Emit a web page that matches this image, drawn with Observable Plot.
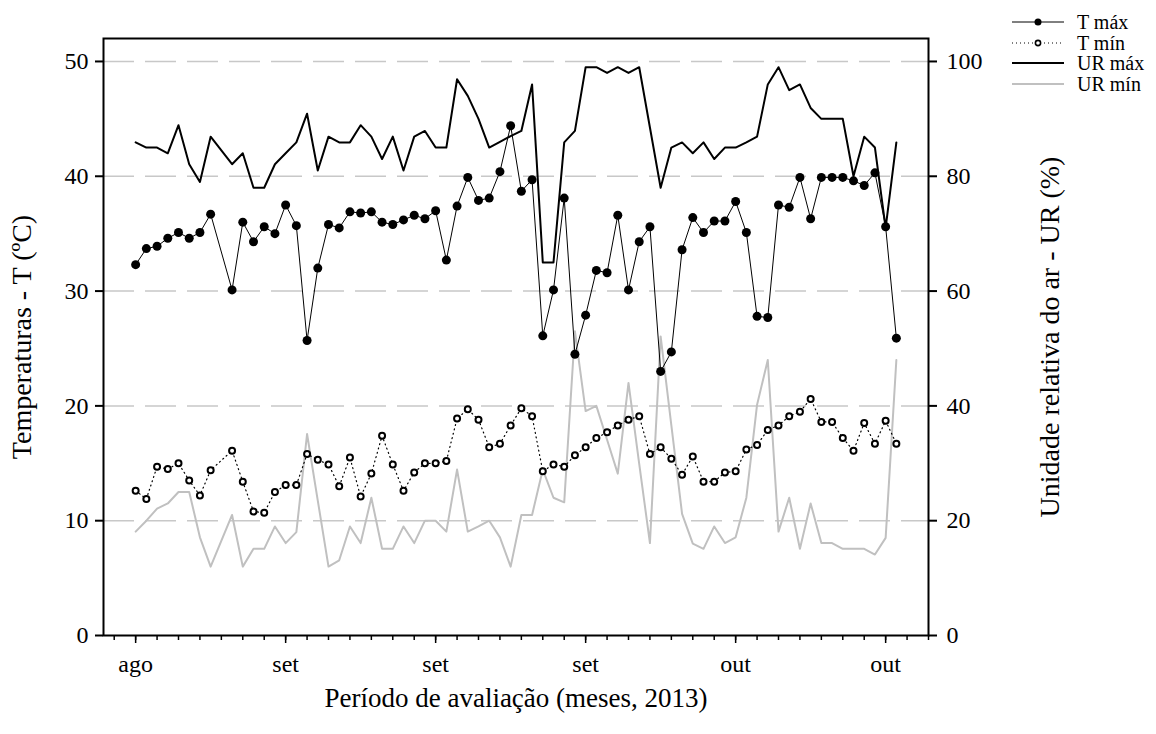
<!DOCTYPE html>
<html>
<head>
<meta charset="utf-8">
<script src="https://cdn.jsdelivr.net/npm/d3@7"></script>
<script src="https://cdn.jsdelivr.net/npm/@observablehq/plot@0.6"></script>
<style>
  html, body { margin: 0; padding: 0; background: white; }
  #wrap { position: relative; width: 1156px; height: 734px; font-family: "Liberation Serif", "Times New Roman", serif; }
  #legend { position: absolute; left: 1012px; top: 12px; font-size: 20px; line-height: 20.5px; }
  #legend .row { display: flex; align-items: center; height: 20.5px; white-space: nowrap; }
  #legend svg { width: 52px; height: 14px; margin-right: 13px; flex: none; }
</style>
</head>
<body>
<div id="wrap">
  <div id="chart"></div>
  <div id="legend"></div>
</div>
<script>
// Day index from the first evaluation day (day 8 has no record)
const days = [0,1,2,3,4,5,6,7,9,10,11,12,13,14,15,16,17,18,19,20,21,22,23,24,25,26,27,28,29,30,31,32,33,34,35,36,37,38,39,40,41,42,43,44,45,46,47,48,49,50,51,52,53,54,55,56,57,58,59,60,61,62,63,64,65,66,67,68,69,70,71];

// T máx (ºC)
const tMax = [32.3,33.7,33.9,34.6,35.1,34.6,35.1,36.7,30.1,36.0,34.3,35.6,35.0,37.5,35.7,25.7,32.0,35.8,35.5,36.9,36.8,36.9,36.0,35.8,36.2,36.6,36.3,37.0,32.7,37.4,39.9,37.9,38.1,40.4,44.4,38.7,39.7,26.1,30.1,38.1,24.5,27.9,31.8,31.6,36.6,30.1,34.3,35.6,23.0,24.7,33.6,36.4,35.1,36.1,36.1,37.8,35.1,27.8,27.7,37.5,37.3,39.9,36.3,39.9,39.9,39.9,39.6,39.2,40.3,35.6,25.9];

// T mín (ºC)
const tMin = [12.6,11.9,14.7,14.5,15.0,13.5,12.2,14.4,16.1,13.4,10.8,10.7,12.5,13.1,13.1,15.8,15.3,14.9,13.0,15.5,12.1,14.1,17.4,14.9,12.6,14.2,15.0,15.0,15.2,18.9,19.7,18.8,16.4,16.7,18.3,19.8,19.1,14.3,14.9,14.7,15.7,16.4,17.2,17.7,18.3,18.8,19.1,15.8,16.4,15.4,14.0,15.6,13.4,13.4,14.2,14.3,16.2,16.6,17.9,18.3,19.1,19.5,20.6,18.6,18.6,17.2,16.1,18.5,16.7,18.7,16.7];

// UR máx (%)
const urMax = [85.9,85.0,85.0,84.0,88.9,82.1,79.0,86.9,82.1,84.0,78.0,78.0,82.1,84.0,85.9,90.9,81.0,86.9,85.9,85.9,88.9,86.9,83.0,86.9,81.0,86.9,87.9,85.0,85.0,96.9,94.0,90.0,85.0,86.0,87.0,87.9,96.0,65.0,65.0,85.9,87.9,99.0,99.0,98.0,99.0,98.0,99.0,88.5,78.0,85.0,85.9,84.0,85.9,83.0,85.0,85.0,85.9,86.9,96.0,99.0,95.0,96.0,91.9,90.0,90.0,90.0,80.0,86.9,85.0,71.0,85.9];

// UR mín (%)
const urMin = [18.1,20.0,22.1,23.0,25.0,25.0,17.1,12.0,21.0,12.0,15.1,15.1,19.0,16.1,18.0,35.1,23.5,12.0,13.1,19.0,16.1,24.0,15.1,15.1,19.0,16.1,20.0,20.0,18.1,28.9,18.1,19.0,20.0,17.1,12.0,21.0,21.0,28.9,24.0,23.2,53.0,39.1,40.0,34.1,28.2,44.0,29.9,16.1,52.1,36.6,21.2,16.0,15.1,19.0,16.1,17.1,24.0,40.2,48.0,18.1,24.0,15.1,23.0,16.1,16.1,15.1,15.1,15.1,14.1,17.0,48.0];

// Axis ticks, labels and titles
const tempTicks = [0, 10, 20, 30, 40, 50];
const gridTicks = [10, 20, 30, 40, 50];
const majorTicks = [0, 14, 28, 42, 56, 70];
const monthLabels = ["ago", "set", "set", "set", "out", "out"];
const minorTicks = d3.range(-2, 75, 2);
const titleLeft = ["Temperaturas - T (ºC)"];
const titleRight = ["Unidade relativa do ar - UR (%)"];
const titleBottom = ["Período de avaliação (meses, 2013)"];

const rows = (vals) => days.map((d, i) => ({day: d, v: vals[i]}));
const dTMax = rows(tMax), dTMin = rows(tMin), dURMax = rows(urMax), dURMin = rows(urMin);

const chart = Plot.plot({
  width: 1156,
  height: 734,
  marginLeft: 103,
  marginRight: 228,
  marginTop: 38,
  marginBottom: 99,
  x: {domain: [-3, 74]},
  y: {domain: [0, 52]},
  style: {fontFamily: "Liberation Serif", fontSize: "24px", color: "black", background: "white", overflow: "visible"},
  marks: [
    Plot.ruleY(gridTicks, {stroke: "#c8c8c8", strokeWidth: 1.5, strokeDasharray: "31,11"}),
    Plot.line(dURMin, {x: "day", y: d => d.v / 2, stroke: "#c0c0c0", strokeWidth: 2}),
    Plot.line(dURMax, {x: "day", y: d => d.v / 2, stroke: "black", strokeWidth: 2}),
    Plot.line(dTMin, {x: "day", y: "v", stroke: "black", strokeWidth: 1.2, strokeDasharray: "1,3.5"}),
    Plot.dot(dTMin, {x: "day", y: "v", r: 3, stroke: "black", strokeWidth: 2, fill: "white"}),
    Plot.line(dTMax, {x: "day", y: "v", stroke: "black", strokeWidth: 1}),
    Plot.dot(dTMax, {x: "day", y: "v", r: 4.5, fill: "black", stroke: "none"}),
    Plot.axisY({ticks: tempTicks, tickSize: 8, tickPadding: 7, strokeWidth: 2, fontSize: 24, label: null}),
    Plot.axisY({anchor: "right", ticks: tempTicks, tickFormat: d => d * 2, tickSize: 8, tickPadding: 10, strokeWidth: 2, fontSize: 24, label: null}),
    Plot.axisX({ticks: minorTicks, tickSize: 5, tickFormat: () => "", label: null, strokeWidth: 1.5}),
    Plot.axisX({ticks: majorTicks, tickSize: 8, tickPadding: 11, strokeWidth: 1.5, fontSize: 24, label: null,
      tickFormat: d => monthLabels[majorTicks.indexOf(d)]}),
    Plot.text(titleLeft, {frameAnchor: "left", rotate: -90, dx: -81, fontSize: 28, textAnchor: "middle", lineAnchor: "middle"}),
    Plot.text(titleRight, {frameAnchor: "right", rotate: -90, dx: 122, fontSize: 28, textAnchor: "middle", lineAnchor: "middle"}),
    Plot.text(titleBottom, {frameAnchor: "bottom", dy: 63, fontSize: 27, textAnchor: "middle", lineAnchor: "middle"}),
    Plot.frame({stroke: "black", strokeWidth: 2})
  ]
});
document.getElementById("chart").appendChild(chart);

// Legend
const legendItems = [
  {name: "T máx", line: "black", width: 1, dash: null, dot: "filled"},
  {name: "T mín", line: "black", width: 1, dash: "1,3", dot: "open"},
  {name: "UR máx", line: "black", width: 2, dash: null, dot: null},
  {name: "UR mín", line: "#c0c0c0", width: 2, dash: null, dot: null}
];
const legend = document.getElementById("legend");
for (const it of legendItems) {
  const row = document.createElement("div");
  row.className = "row";
  let s = `<svg viewBox="0 0 52 14"><line x1="0" x2="52" y1="7" y2="7" stroke="${it.line}" stroke-width="${it.width}"${it.dash ? ` stroke-dasharray="${it.dash}"` : ""}/>`;
  if (it.dot === "filled") s += `<circle cx="26" cy="7" r="3.5" fill="black"/>`;
  if (it.dot === "open") s += `<circle cx="26" cy="7" r="2.6" fill="white" stroke="black" stroke-width="1.6"/>`;
  s += `</svg>`;
  row.innerHTML = s + `<span>${it.name}</span>`;
  legend.appendChild(row);
}
</script>
</body>
</html>
